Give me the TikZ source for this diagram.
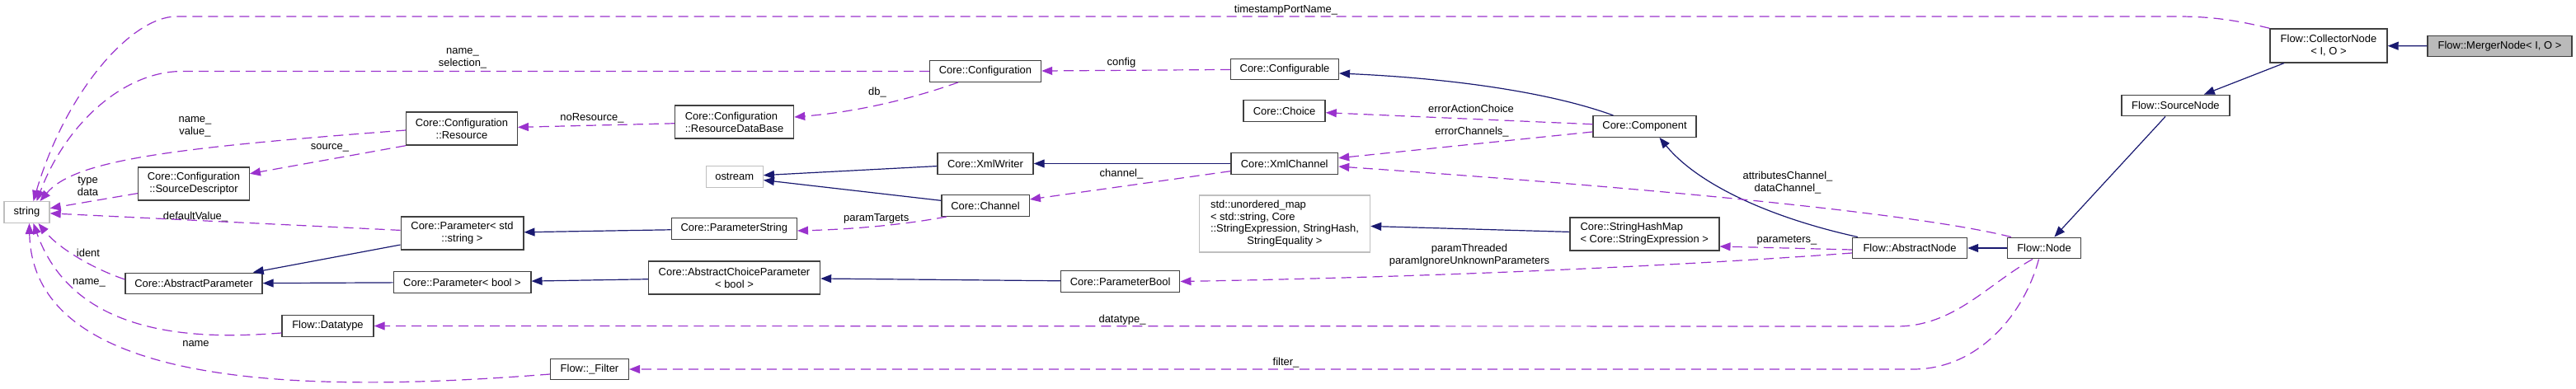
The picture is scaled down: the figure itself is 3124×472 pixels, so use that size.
\documentclass[tikz,border=0pt]{standalone}
\usepackage{fontspec}
\setmainfont{Liberation Sans}
\usetikzlibrary{arrows.meta}
\definecolor{inhblue}{HTML}{191970}
\definecolor{usepurple}{HTML}{9A32CD}
\begin{document}
\begin{tikzpicture}[x=1bp,y=-1bp,
  cls/.style={draw=black!75,line width=1.4bp,fill=white,inner sep=0pt,minimum height=25.5bp,align=center,font=\fontsize{13}{15}\selectfont},
  ext/.style={cls,draw=black!25},
  cur/.style={cls,fill=black!27},
  lbl/.style={inner sep=0pt,align=center,font=\fontsize{13}{15}\selectfont},
  inh/.style={draw=inhblue,line width=1.2bp,-{Triangle[length=13bp,width=10bp]}},
  usage/.style={draw=usepurple,line width=1.2bp,dash pattern=on 12bp off 7bp,-{Triangle[length=13bp,width=10bp]}}]
\useasboundingbox (0,0) rectangle (3124,472);
\node[cur,minimum width=175bp] (merger) at (3031.5,56) {Flow::MergerNode< I, O >};
\node[cls,minimum width=142bp,minimum height=41bp] (collector) at (2824,55.5) {Flow::CollectorNode\\< I, O >};
\node[cls,minimum width=131bp] (source) at (2638.4,128) {Flow::SourceNode};
\node[cls,minimum width=89bp] (flownode) at (2479,301) {Flow::Node};
\node[cls,minimum width=139bp] (absnode) at (2316,301) {Flow::AbstractNode};
\node[cls,minimum width=125bp] (component) at (1994.5,153.5) {Core::Component};
\node[cls,minimum width=181bp,minimum height=40bp,align=left] (strhash) at (1994.3,284) {Core::StringHashMap\\< Core::StringExpression >};
\node[cls,minimum width=130.7bp] (configurable) at (1558,84) {Core::Configurable};
\node[cls,minimum width=99bp] (choice) at (1557.6,134.5) {Core::Choice};
\node[cls,minimum width=129.6bp] (xmlchannel) at (1557.7,198.5) {Core::XmlChannel};
\node[ext,minimum width=207bp,minimum height=69bp] (umap) at (1558,271.5) {\begin{tabular}{@{}l@{}}std::unordered\_map\\< std::string, Core\\::StringExpression, StringHash,\\\multicolumn{1}{@{}c@{}}{StringEquality >}\end{tabular}};
\node[cls,minimum width=144.3bp] (pbool) at (1358.6,341.5) {Core::ParameterBool};
\node[cls,minimum width=135bp] (config) at (1195,86.5) {Core::Configuration};
\node[cls,minimum width=116bp] (xmlwriter) at (1195,198.5) {Core::XmlWriter};
\node[cls,minimum width=106.4bp] (channel) at (1195,249.5) {Core::Channel};
\node[cls,minimum width=144bp,minimum height=40bp,align=left] (resdb) at (890.5,148) {Core::Configuration\\::ResourceDataBase};
\node[ext,minimum width=69bp] (ostream) at (890.7,214.5) {ostream};
\node[cls,minimum width=152bp] (parameterstring) at (890.3,277.5) {Core::ParameterString};
\node[cls,minimum width=208bp,minimum height=40bp] (choiceparam) at (890.5,337) {Core::AbstractChoiceParameter\\< bool >};
\node[cls,minimum width=94.6bp] (filter) at (715,448) {Flow::\_Filter};
\node[cls,minimum width=134.5bp,minimum height=40bp] (resource) at (560,156) {Core::Configuration\\::Resource};
\node[cls,minimum width=148.6bp,minimum height=40bp] (paramstr) at (560.5,283) {Core::Parameter< std\\::string >};
\node[cls,minimum width=166.6bp] (parambool) at (560.5,342.5) {Core::Parameter< bool >};
\node[cls,minimum width=134.5bp,minimum height=40bp] (srcdesc) at (235,223) {Core::Configuration\\::SourceDescriptor};
\node[cls,minimum width=166bp] (absparam) at (235,344) {Core::AbstractParameter};
\node[cls,minimum width=111bp] (datatype) at (397.5,395.5) {Flow::Datatype};
\node[ext,minimum width=55bp] (str) at (32.5,257.5) {string};
\node[lbl] (lTimestamp) at (1559.5,12) {timestampPortName\_};
\node[lbl] (lNameSel) at (561,71) {name\_\\selection\_};
\node[lbl] (lNameVal) at (236.5,154) {name\_\\value\_};
\node[lbl] (lSource) at (400,179) {source\_};
\node[lbl] (lTypeData) at (106.5,226) {type\\data};
\node[lbl] (lDefault) at (237,263) {defaultValue\_};
\node[lbl] (lIdent) at (107,307) {ident};
\node[lbl] (lNameDt) at (108,343) {name\_};
\node[lbl] (lNameFl) at (237.5,417) {name};
\node[lbl] (lNoRes) at (718,143) {noResource\_};
\node[lbl] (lDb) at (1064,112) {db\_};
\node[lbl] (lConfig) at (1360,76) {config};
\node[lbl] (lChannel) at (1360,211) {channel\_};
\node[lbl] (lTargets) at (1062.7,265) {paramTargets};
\node[lbl] (lErrAct) at (1784,132) {errorActionChoice};
\node[lbl] (lErrCh) at (1785,160) {errorChannels\_};
\node[lbl] (lAttr) at (2168,221.5) {attributesChannel\_\\dataChannel\_};
\node[lbl] (lParams) at (2167,292) {parameters\_};
\node[lbl] (lThreaded) at (1782,309.5) {paramThreaded\\paramIgnoreUnknownParameters};
\node[lbl] (lDatatype) at (1361,388) {datatype\_};
\node[lbl] (lFilter) at (1559.5,440) {filter\_};
\draw[inh] (merger) -- (collector);
\draw[inh] (collector) -- (source);
\draw[inh] (source) -- (flownode);
\draw[inh] (flownode) -- (absnode);
\draw[inh] ([xshift=-63bp]absnode.north) .. controls (2150,265) and (2060,225) .. ([xshift=18bp]component.south);
\draw[inh] ([xshift=-38bp]component.north) .. controls (1880,112) and (1760,95) .. ([yshift=-5bp]configurable.east);
\draw[inh] (xmlchannel) -- (xmlwriter);
\draw[inh] (xmlwriter) -- (ostream);
\draw[inh] (channel) -- (ostream);
\draw[inh] (strhash) -- (umap);
\draw[inh] (pbool) -- (choiceparam);
\draw[inh] (choiceparam) -- (parambool);
\draw[inh] (parambool) -- (absparam);
\draw[inh] (paramstr) -- (absparam);
\draw[inh] (parameterstring) -- (paramstr);
\draw[usage] (collector.north west) .. controls (2710,24) and (2680,20) .. (2640,20) -- (214,20) .. controls (160,20) and (80,110) .. ([xshift=8bp]str.north);
\draw[usage] (config.west) -- (221,86.5) .. controls (150,86.5) and (80,150) .. ([xshift=12bp]str.north);
\draw[usage] ([yshift=-2bp]resource.west) .. controls (200,180) and (90,195) .. ([xshift=16bp]str.north);
\draw[usage] (srcdesc) -- (str);
\draw[usage] (paramstr) -- (str);
\draw[usage] ([yshift=5bp]absparam.west) .. controls (110,325) and (70,300) .. ([xshift=14bp]str.south);
\draw[usage] ([yshift=-8.5bp]datatype.west) .. controls (240,412) and (90,410) .. ([xshift=8bp]str.south);
\draw[usage] ([yshift=-6bp]filter.west) .. controls (400,475) and (40,480) .. ([xshift=3bp]str.south);
\draw[usage] (resource.south west) -- (srcdesc);
\draw[usage] (resdb) -- (resource);
\draw[usage] ([xshift=-33bp]config.south) .. controls (1120,115) and (1050,135) .. ([yshift=6bp]resdb.east);
\draw[usage] (configurable) -- (config);
\draw[usage] (component) -- (choice);
\draw[usage] (component) -- (xmlchannel);
\draw[usage] ([xshift=-40bp]flownode.north) .. controls (2350,265) and (2100,235) .. ([yshift=-3.5bp]xmlchannel.east);
\draw[usage] (xmlchannel) -- (channel);
\draw[usage] ([xshift=-47bp]channel.south) .. controls (1100,272) and (1040,278) .. ([yshift=-2.5bp]parameterstring.east);
\draw[usage] ([yshift=-2bp]absnode.west) -- ([yshift=-15bp]strhash.east);
\draw[usage] ([yshift=-6bp]absnode.west) .. controls (2100,318) and (1800,335) .. (pbool.east);
\draw[usage] ([xshift=-14bp]flownode.south) .. controls (2410,345) and (2370,396) .. (2300,396) -- (datatype.east);
\draw[usage] ([xshift=-6.5bp]flownode.south) .. controls (2455,380) and (2400,448) .. (2320,448) -- (filter.east);
\end{tikzpicture}
\end{document}
